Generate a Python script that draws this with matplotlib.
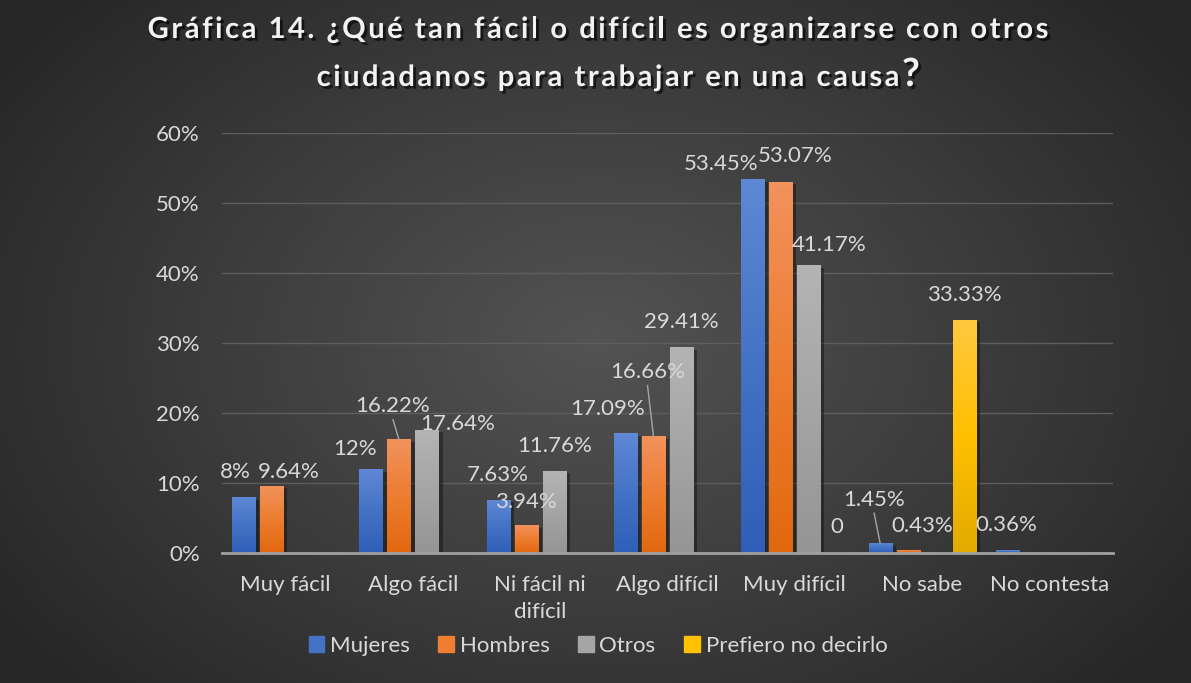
import numpy as np
import matplotlib
matplotlib.use('Agg')
import matplotlib.pyplot as plt
import matplotlib.patheffects as pe
from matplotlib.colors import LinearSegmentedColormap

plt.rcParams['font.family'] = ['Lato', 'DejaVu Sans']

# Data
categorias = ['Muy fácil', 'Algo fácil', 'Ni fácil ni\ndifícil', 'Algo difícil',
              'Muy difícil', 'No sabe', 'No contesta']
series = ['Mujeres', 'Hombres', 'Otros', 'Prefiero no decirlo']
mujeres = [8.00, 12.00, 7.63, 17.09, 53.45, 1.45, 0.36]
hombres = [9.64, 16.22, 3.94, 16.66, 53.07, 0.43, None]
otros = [None, 17.64, 11.76, 29.41, 41.17, None, None]
prefiero = [None, None, None, None, 0.0, 33.33, None]
etiquetas = {(0, 0): '8%', (0, 1): '12%', (3, 4): '0'}
valores = [mujeres, hombres, otros, prefiero]

# label offsets in pixels (dx, dy above bar top) to mimic moved labels
offsets = {
    (0, 0): (-8, 25), (1, 0): (17, 14),
    (0, 1): (-16, 20), (1, 1): (-6, 33), (2, 1): (31, 6),
    (0, 2): (0, 25), (1, 2): (0, 23), (2, 2): (0, 25),
    (0, 3): (-18, 24), (1, 3): (-6, 64), (2, 3): (0, 25),
    (0, 4): (-32, 15), (1, 4): (14, 26), (2, 4): (20, 20), (3, 4): (0, 26),
    (0, 5): (-6, 43), (1, 5): (14, 24), (3, 5): (0, 25),
    (0, 6): (-1, 25),
}
leaders = {(1, 1), (1, 3), (0, 5)}

grad_top = ['#5f88d6', '#f2925c', '#b4b4b4', '#ffc73f']
grad_mid = ['#4472c4', '#ed7d31', '#a5a5a5', '#ffc000']
grad_bot = ['#2f5fb8', '#e2680f', '#959595', '#e2ab00']
legend_col = ['#4472c4', '#ed7d31', '#a5a5a5', '#ffc000']
txtcol = '#d9d9d9'
fs = 16

W, H = 1191, 683
fig = plt.figure(figsize=(W / 100, H / 100), dpi=100)
renderer = fig.canvas.get_renderer()

# radial background
bg = fig.add_axes([0, 0, 1, 1], zorder=-10)
yy, xx = np.mgrid[0:H, 0:W]
r = np.sqrt(((xx - W * 0.5) / (W * 0.62)) ** 2 + ((yy - H * 0.5) / (H * 0.75)) ** 2)
r = np.clip(r, 0, 1)
bgcmap = LinearSegmentedColormap.from_list('bg', ['#535353', '#3d3d3d', '#262626'])
bg.imshow(r, cmap=bgcmap, aspect='auto', extent=[0, 1, 0, 1], vmin=0, vmax=1)
bg.axis('off')

ax = fig.add_axes([222 / W, 1 - 553 / H, (1113 - 222) / W, (553 - 133) / H])
ax.set_facecolor('none')

x = np.arange(len(categorias))
step = 0.22
width = 0.181
for i, vals in enumerate(valores):
    pos = x + (i - 1.5) * step
    v = np.array([np.nan if a is None else a / 100 for a in vals])
    bars = ax.bar(pos, np.nan_to_num(v), width, color=grad_mid[i], zorder=3,
                  label=series[i], linewidth=0)
    cmap = LinearSegmentedColormap.from_list('g%d' % i, [grad_bot[i], grad_mid[i], grad_top[i]])
    for j, b in enumerate(bars):
        if np.isnan(v[j]):
            b.set_visible(False)
            continue
        h = b.get_height()
        if h > 0:
            b.set_path_effects([pe.SimplePatchShadow(offset=(3, -2), shadow_rgbFace='black', alpha=0.35),
                                pe.Normal()])
            img = ax.imshow(np.linspace(0, 1, 100).reshape(-1, 1), cmap=cmap, origin='lower',
                            extent=[b.get_x(), b.get_x() + b.get_width(), 0, h],
                            aspect='auto', zorder=3.5)
            img.set_clip_path(b)
        txt = etiquetas.get((i, j), '%.2f%%' % (v[j] * 100))
        dx, dy = offsets[(i, j)]
        ax.annotate(txt, (b.get_x() + b.get_width() / 2, h), xytext=(dx, dy),
                    textcoords='offset pixels', ha='center', va='center',
                    fontsize=fs, color=txtcol, zorder=5)
        if (i, j) in leaders:
            ax.annotate('', (b.get_x() + b.get_width() / 2, h), xytext=(dx, dy - 13),
                        textcoords='offset pixels',
                        arrowprops=dict(arrowstyle='-', color='#a6a6a6', lw=1,
                                        shrinkA=0, shrinkB=0), zorder=5)

ax.set_xlim(-0.5, len(categorias) - 0.5)
ax.set_ylim(0, 0.6)
ax.set_yticks(np.arange(0, 0.61, 0.1))
ax.set_yticklabels(['%d%%' % round(t * 100) for t in np.arange(0, 0.61, 0.1)])
ax.set_xticks(x)
ax.set_xticklabels(categorias, linespacing=1.4)
ax.tick_params(axis='both', length=0, colors=txtcol, labelsize=fs)
ax.tick_params(axis='y', pad=16)
ax.tick_params(axis='x', pad=16)
ax.grid(axis='y', color='#5e5e5e', lw=1, zorder=0)
ax.set_axisbelow(True)
for s in ['top', 'right', 'left']:
    ax.spines[s].set_visible(False)
ax.spines['bottom'].set_color('#a0a0a0')
ax.spines['bottom'].set_linewidth(2)
ax.spines['bottom'].set_zorder(4)

handles = [plt.Rectangle((0, 0), 1, 1, color=c) for c in legend_col]
fig.legend(handles, series, loc='center', bbox_to_anchor=(0.502, 1 - 646 / H), ncol=4,
           frameon=False, fontsize=fs, labelcolor=txtcol, handlelength=0.7,
           handleheight=0.7, handletextpad=0.25, columnspacing=1.3)


# title with letter spacing, drawn char by char
def text_width(s, **kw):
    if not s:
        return 0.0
    t = fig.text(0, 0, s, **kw)
    w = t.get_window_extent(renderer).width
    t.remove()
    return w


def tracked(s, xc, yc, track, last_size=None, **kw):
    bar_w = text_width('|', **kw)
    n = len(s)
    starts = [0.0] + [text_width(s[:k] + '|', **kw) - bar_w for k in range(1, n)]
    total = text_width(s, **kw) + (n - 1) * track
    x0 = xc - total / 2
    effects = [pe.withSimplePatchShadow(offset=(2, -2), shadow_rgbFace='black', alpha=0.6)]
    for k, ch in enumerate(s):
        if ch == ' ':
            continue
        kk = dict(kw)
        if last_size and k == n - 1:
            kk['fontsize'] = last_size
        t = fig.text((x0 + starts[k] + k * track) / W, yc / H, ch, ha='left',
                     va='baseline', **kk)
        t.set_path_effects(effects)


tkw = dict(fontsize=21, fontweight='bold', color='#f2f2f2')
tracked('Gráfica 14. ¿Qué tan fácil o difícil es organizarse con otros', 598, H - 38, 2.5, **tkw)
tracked('ciudadanos para trabajar en una causa?', 616, H - 86, 2.5, last_size=28, **tkw)

fig.savefig('out.png', dpi=100)
